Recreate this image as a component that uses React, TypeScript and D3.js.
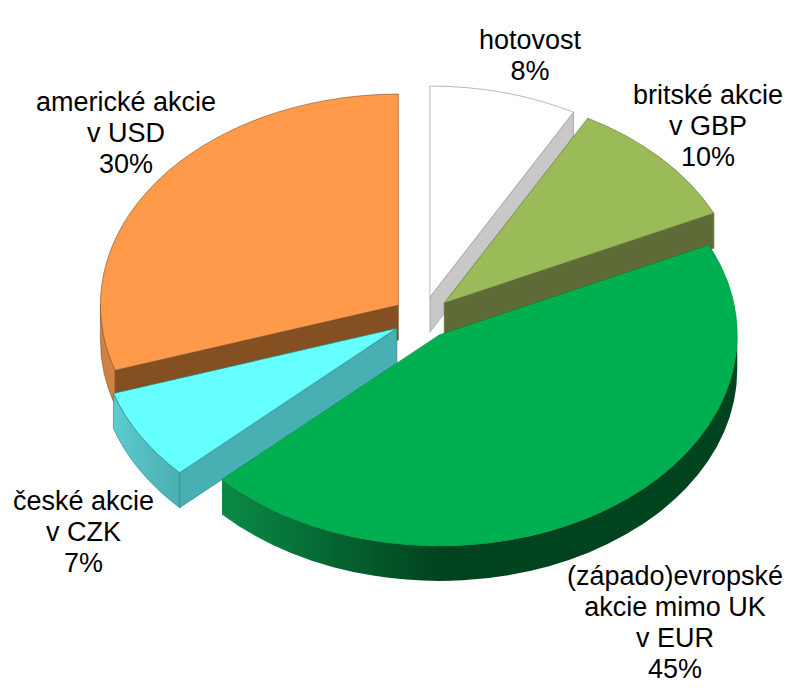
import * as d3 from "d3";

// order clockwise from 12 o'clock
const names = [
  "hotovost",
  "britské akcie\nv GBP",
  "(západo)evropské\nakcie mimo UK\nv EUR",
  "české akcie\nv CZK",
  "americké akcie\nv USD",
];
const shares = [8, 10, 45, 7, 30];
const topColors = ["#ffffff", "#9bbb59", "#00b050", "#66ffff", "#ff9a4a"];
const edgeColors = ["#8a8a8a", "#5a6a30", "#008a40", "#1c7f80", "#80502a"];
const wallColors = ["#c8c8c8", "#5e6b36", "#00431f", "#48b0b2", "#845021"];
const rimStops = [
  ["#c8c8c8", "#c8c8c8"],
  ["#5e6b36", "#5e6b36"],
  ["#0a8a45", "#00431f"],
  ["#5ccbd0", "#4aaeb0"],
  ["#d08244", "#b86f38"],
];
const labelX = [530, 708, 675, 83.5, 126];
const labelY = [49, 104, 584.5, 510, 110.5];

const width = 796;
const height = 692;
const cx = 422.5;
const cy = 317.5;
const rx = 298;
const ry = 211;
const depth = 35;
const explode = 0.1;
const fontSize = 27;
const lineGap = 31;

// the order slices are painted in, back to front
const paintOrder = [0, 4, 1, 3, 2];

const arcs = d3.pie<number>().sort(null).startAngle(0).endAngle(2 * Math.PI)(shares);

const px = (a: number) => rx * Math.sin(a);
const py = (a: number) => -ry * Math.cos(a);

function topPath(a0: number, a1: number) {
  const large = a1 - a0 > Math.PI ? 1 : 0;
  return `M0,0L${px(a0)},${py(a0)}A${rx},${ry} 0 ${large} 1 ${px(a1)},${py(a1)}Z`;
}

function radialPath(a: number) {
  return `M0,0L${px(a)},${py(a)}L${px(a)},${py(a) + depth}L0,${depth}Z`;
}

// outer rim, only the part that faces the viewer
function rimPath(a0: number, a1: number) {
  const s = Math.max(a0, Math.PI / 2);
  const e = Math.min(a1, (3 * Math.PI) / 2);
  if (e <= s) return null;
  const large = e - s > Math.PI ? 1 : 0;
  return (
    `M${px(s)},${py(s)}A${rx},${ry} 0 ${large} 1 ${px(e)},${py(e)}` +
    `L${px(e)},${py(e) + depth}A${rx},${ry} 0 ${large} 0 ${px(s)},${py(s) + depth}Z`
  );
}

export default function App() {
  return (
    <svg
      width={width}
      height={height}
      viewBox={`0 0 ${width} ${height}`}
      style={{ position: "absolute", left: 0, top: 0, display: "block", background: "#fff" }}
    >
      <defs>
        {arcs.map((d, i) => (
          <linearGradient
            key={i}
            id={`rim${i}`}
            gradientUnits="userSpaceOnUse"
            x1={Math.min(px(d.startAngle), px(d.endAngle))}
            x2={i === 2 ? 0 : Math.max(px(d.startAngle), px(d.endAngle))}
            y1={0}
            y2={0}
          >
            <stop offset="0" stopColor={rimStops[i][0]} />
            <stop offset="1" stopColor={rimStops[i][1]} />
          </linearGradient>
        ))}
      </defs>
      {paintOrder.map((i) => {
        const d = arcs[i];
        const mid = (d.startAngle + d.endAngle) / 2;
        const dx = cx + explode * px(mid);
        const dy = cy + explode * py(mid);
        const rim = rimPath(d.startAngle, d.endAngle);
        const walls: number[] = [];
        if (Math.sin(d.startAngle) < -1e-6) walls.push(d.startAngle);
        if (Math.sin(d.endAngle) > 1e-6) walls.push(d.endAngle);
        const stroke = edgeColors[i];
        return (
          <g key={i} transform={`translate(${dx},${dy})`} strokeWidth={0.6} strokeLinejoin="round">
            {walls.map((a) => (
              <path key={a} d={radialPath(a)} fill={wallColors[i]} stroke={stroke} />
            ))}
            {rim && <path d={rim} fill={`url(#rim${i})`} stroke={i === 2 ? "none" : stroke} />}
            <path d={topPath(d.startAngle, d.endAngle)} fill={topColors[i]} stroke={stroke} />
          </g>
        );
      })}
      <g fontFamily="'Liberation Sans', Arial, sans-serif" fontSize={fontSize} fill="#000" textAnchor="middle">
        {names.map((name, i) => {
          const lines = [...name.split("\n"), `${shares[i]}%`];
          return (
            <text key={i}>
              {lines.map((line, j) => (
                <tspan key={j} x={labelX[i]} y={labelY[i] + j * lineGap}>
                  {line}
                </tspan>
              ))}
            </text>
          );
        })}
      </g>
    </svg>
  );
}
